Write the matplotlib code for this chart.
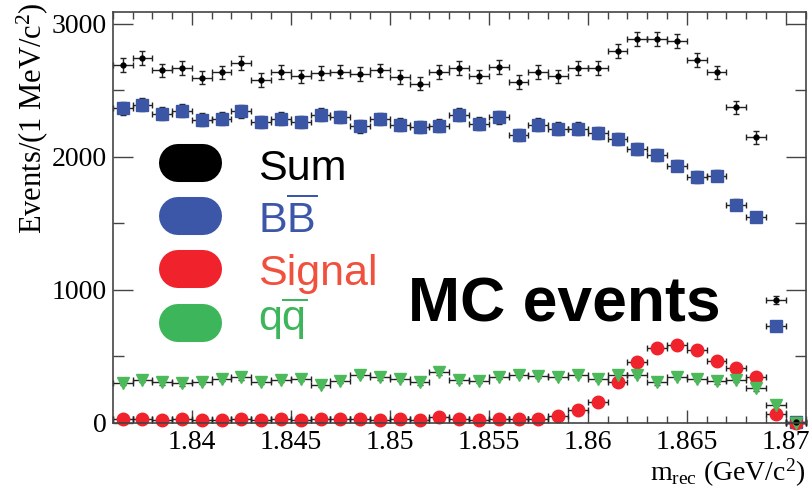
import numpy as np
import matplotlib
matplotlib.use("Agg")
import matplotlib.pyplot as plt
from matplotlib.lines import Line2D
from matplotlib.ticker import MultipleLocator, FuncFormatter

plt.rcParams['font.family'] = ['Liberation Serif', 'DejaVu Serif']
plt.rcParams['mathtext.fontset'] = 'custom'
plt.rcParams['mathtext.rm'] = 'Liberation Serif'
plt.rcParams['mathtext.it'] = 'Liberation Serif:italic'
plt.rcParams['mathtext.sf'] = 'Liberation Sans'

# binning: 1 MeV bins from 1.836 to 1.871 GeV
bin_lo = 1.836
bin_width = 0.001

sum_vals = [2690, 2740, 2648, 2666, 2595, 2633, 2703, 2578, 2636,
            2603, 2628, 2640, 2623, 2648, 2598, 2548, 2636, 2666,
            2603, 2675, 2560, 2635, 2603, 2665, 2665, 2795, 2885,
            2883, 2870, 2728, 2633, 2373, 2145, 920, 8]
bb_vals = [2365, 2390, 2323, 2345, 2278, 2285, 2340, 2260, 2285,
           2260, 2315, 2298, 2228, 2283, 2240, 2223, 2233, 2315,
           2248, 2295, 2165, 2240, 2210, 2210, 2178, 2135, 2060,
           2010, 1933, 1848, 1858, 1640, 1548, 728, 5]
sig_vals = [25, 25, 22, 25, 22, 22, 25, 22, 28,
            23, 25, 25, 30, 22, 25, 22, 40, 25,
            23, 30, 30, 30, 48, 98, 153, 303, 460,
            565, 585, 545, 465, 415, 340, 65, 0]
qq_vals = [298, 323, 303, 295, 308, 328, 340, 308, 323,
           328, 283, 315, 360, 340, 328, 303, 378, 320,
           315, 345, 360, 353, 345, 360, 328, 360, 360,
           303, 345, 328, 310, 323, 258, 135, 0]

legend_labels = ['Sum', r'$\mathsf{B\overline{B}}$', 'Signal', r'$\mathsf{q\overline{q}}$']
pill_colors = ['#000000', '#3c57a8', '#f0222c', '#3db55a']
text_colors = ['#000000', '#3c57a8', '#f0503c', '#3db55a']

x = bin_lo + bin_width * (np.arange(len(sum_vals)) + 0.5)

fig = plt.figure(figsize=(8.12, 4.91), dpi=100)
ax = fig.add_axes([0.1388, 0.1391, 0.8534, 0.8371])

eb = dict(xerr=bin_width / 2, ecolor='#222222', elinewidth=1, capsize=2.5,
          capthick=1, linestyle='none', clip_on=False)

ax.errorbar(x, bb_vals, yerr=np.sqrt(bb_vals), fmt='s', ms=8.5,
            color='#3a56a5', mec='#3a56a5', **eb)
ax.errorbar(x, sig_vals, yerr=np.sqrt(sig_vals), fmt='o', ms=9,
            color='#f0222c', mec='#f0222c', **eb)
ax.errorbar(x, qq_vals, yerr=np.sqrt(qq_vals), fmt='v', ms=9,
            color='#4cba5a', mec='#4cba5a', **eb)
ax.errorbar(x, sum_vals, yerr=np.sqrt(sum_vals), fmt='o', ms=3.5,
            color='black', **eb)

ax.set_xlim(1.836, 1.871)
ax.set_ylim(0, 3090)

ax.xaxis.set_major_locator(MultipleLocator(0.005))
ax.xaxis.set_minor_locator(MultipleLocator(0.001))
ax.yaxis.set_major_locator(MultipleLocator(1000))
ax.yaxis.set_minor_locator(MultipleLocator(500))
ax.xaxis.set_major_formatter(FuncFormatter(lambda v, p: f'{v:g}'))
ax.yaxis.set_major_formatter(FuncFormatter(lambda v, p: f'{v:.0f}'))

ax.tick_params(which='both', direction='in', top=True, right=True,
               labelsize=20, width=1, color='#444444')
ax.tick_params(axis='y', which='major', length=14.4, pad=4)
ax.tick_params(axis='y', which='minor', length=7.6)
ax.tick_params(axis='x', which='major', length=9.4, pad=5)
ax.tick_params(axis='x', which='minor', length=5)
for sp in ax.spines.values():
    sp.set_color('#444444')
    sp.set_linewidth(1.2)

fig.text(0.04, 0.995, 'Events/(1 MeV/c$^{2}$)', rotation=90,
         ha='center', va='top', fontsize=22)
fig.text(0.992, 0.005, r'm$_{\rm rec}$ (GeV/c$^{2}$)',
         ha='right', va='bottom', fontsize=20)

# hand-made legend with pill shapes
pill_y = [0.668, 0.560, 0.453, 0.343]
text_y = [0.6334, 0.5255, 0.4196, 0.3259]
for i in range(4):
    fig.add_artist(Line2D([0.2192, 0.25], [pill_y[i], pill_y[i]],
                          transform=fig.transFigure, lw=27.4,
                          solid_capstyle='round', color=pill_colors[i]))
    fig.text(0.3175, text_y[i], legend_labels[i], color=text_colors[i],
             fontsize=31, family='Liberation Sans', va='baseline')

fig.text(0.5025, 0.3442, 'MC events', fontsize=45, fontweight='bold',
         family='Liberation Sans', va='baseline')

fig.savefig('out.png', dpi=100)
